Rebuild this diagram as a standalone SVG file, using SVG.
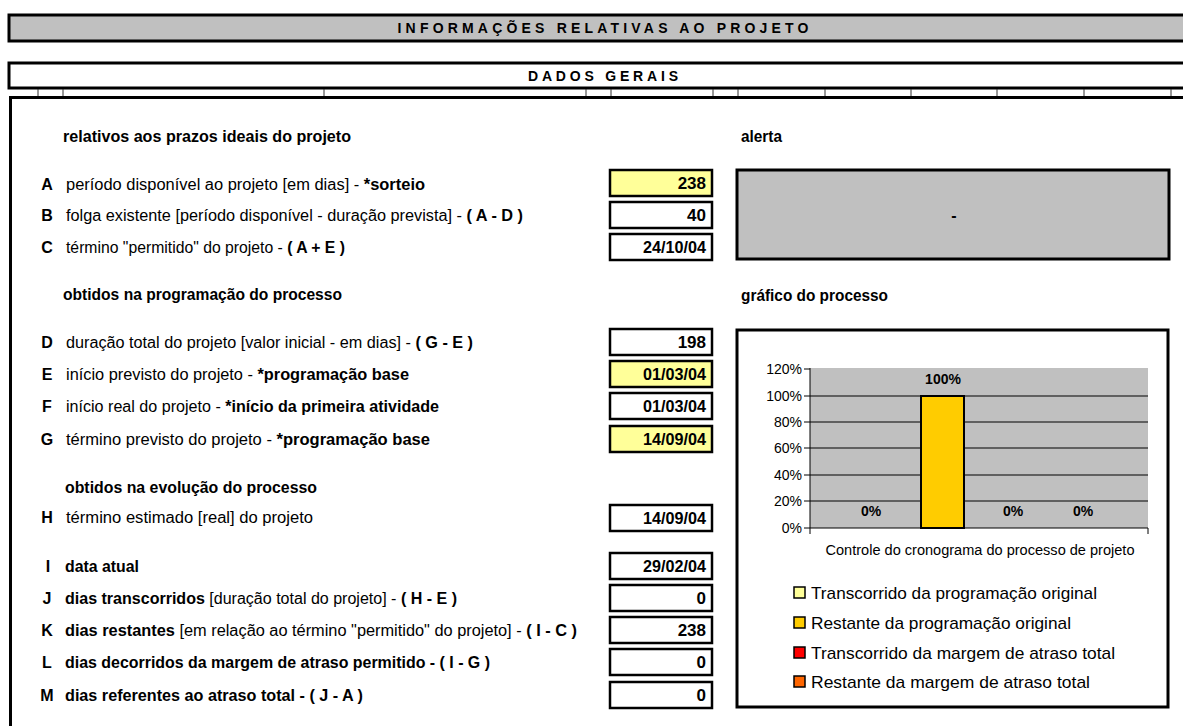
<svg xmlns="http://www.w3.org/2000/svg" width="1183" height="726" viewBox="0 0 1183 726">
<style>
.t{font-family:"Liberation Sans",Arial,sans-serif;font-size:16px;fill:#000}
.b{font-weight:bold}
.hd{font-family:"Liberation Sans",Arial,sans-serif;font-size:14px;font-weight:bold;fill:#000}
.lt{font-family:"Liberation Sans",Arial,sans-serif;font-size:16px;font-weight:bold;fill:#000;text-anchor:middle}
.v{font-family:"Liberation Sans",Arial,sans-serif;font-size:17px;font-weight:bold;fill:#000;text-anchor:end}
.box{fill:#fff;stroke:#000;stroke-width:2.5}
.yel{fill:#ffff99;stroke:#000;stroke-width:2.5}
.ax{font-family:"Liberation Sans",Arial,sans-serif;font-size:14px;fill:#000;text-anchor:end}
.lg{font-family:"Liberation Sans",Arial,sans-serif;font-size:17px;fill:#000}
.grid{stroke:#000;stroke-width:1}
.tick{stroke:#333;stroke-width:1}
</style>
<rect width="1183" height="726" fill="#fff"/>
<g id="header">
<rect x="9" y="15" width="1190" height="26" fill="#c0c0c0" stroke="#000" stroke-width="3"/>
<text class="hd" x="603" y="33" text-anchor="middle" textLength="411" lengthAdjust="spacing">INFORMAÇÕES RELATIVAS AO PROJETO</text>
</g>
<g id="dados-gerais">
<rect x="9" y="63" width="1190" height="25" fill="#fff" stroke="#000" stroke-width="3"/>
<text class="hd" x="603" y="81" text-anchor="middle" textLength="150" lengthAdjust="spacing">DADOS GERAIS</text>
<g class="tick">
<line x1="38" y1="89" x2="38" y2="96"/><line x1="63" y1="89" x2="63" y2="96"/>
<line x1="324" y1="89" x2="324" y2="96"/><line x1="586" y1="89" x2="586" y2="96"/>
<line x1="611" y1="89" x2="611" y2="96"/><line x1="713" y1="89" x2="713" y2="96"/>
<line x1="738" y1="89" x2="738" y2="96"/><line x1="825" y1="89" x2="825" y2="96"/>
<line x1="911" y1="89" x2="911" y2="96"/><line x1="997" y1="89" x2="997" y2="96"/>
<line x1="1084" y1="89" x2="1084" y2="96"/><line x1="1171" y1="89" x2="1171" y2="96"/>
</g>
</g>
<g id="frame">
<path d="M10.5 730 V97.5 H1190" fill="none" stroke="#000" stroke-width="3"/>
</g>
<g id="sections">
<text class="t b" x="63" y="142" textLength="288" lengthAdjust="spacingAndGlyphs">relativos aos prazos ideais do projeto</text>
<text class="t b" x="63" y="300" textLength="279" lengthAdjust="spacingAndGlyphs">obtidos na programação do processo</text>
<text class="t b" x="65" y="493" textLength="252" lengthAdjust="spacingAndGlyphs">obtidos na evolução do processo</text>
<text class="t b" x="741" y="142" textLength="41" lengthAdjust="spacingAndGlyphs">alerta</text>
<text class="t b" x="741" y="301" textLength="147" lengthAdjust="spacingAndGlyphs">gráfico do processo</text>
</g>
<g id="row-A">
<text class="lt" x="47" y="190">A</text>
<text class="t" x="66" y="190" textLength="359" lengthAdjust="spacingAndGlyphs">período disponível ao projeto [em dias] - <tspan class="b">*sorteio</tspan></text>
<rect class="yel" x="610" y="170" width="102" height="26"/>
<text class="v" x="706" y="189">238</text>
</g>
<g id="row-B">
<text class="lt" x="47" y="221">B</text>
<text class="t" x="66" y="221" textLength="457" lengthAdjust="spacingAndGlyphs">folga existente [período disponível - duração prevista] - <tspan class="b">( A - D )</tspan></text>
<rect class="box" x="610" y="202" width="102" height="26"/>
<text class="v" x="706" y="221">40</text>
</g>
<g id="row-C">
<text class="lt" x="47" y="253">C</text>
<text class="t" x="66" y="253" textLength="279" lengthAdjust="spacingAndGlyphs">término "permitido" do projeto - <tspan class="b">( A + E )</tspan></text>
<rect class="box" x="610" y="234" width="102" height="26"/>
<text class="v" x="706" y="253" textLength="63" lengthAdjust="spacingAndGlyphs">24/10/04</text>
</g>
<g id="alerta">
<rect x="737" y="170" width="432" height="89" fill="#c0c0c0" stroke="#000" stroke-width="3"/>
<text class="t b" x="954" y="221" text-anchor="middle" font-size="18">-</text>
</g>
<g id="row-D">
<text class="lt" x="47" y="348">D</text>
<text class="t" x="66" y="348" textLength="407" lengthAdjust="spacingAndGlyphs">duração total do projeto [valor inicial - em dias] - <tspan class="b">( G - E )</tspan></text>
<rect class="box" x="610" y="329" width="102" height="26"/>
<text class="v" x="706" y="348">198</text>
</g>
<g id="row-E">
<text class="lt" x="47" y="380">E</text>
<text class="t" x="66" y="380" textLength="343" lengthAdjust="spacingAndGlyphs">início previsto do projeto - <tspan class="b">*programação base</tspan></text>
<rect class="yel" x="610" y="361" width="102" height="26"/>
<text class="v" x="706" y="380" textLength="63" lengthAdjust="spacingAndGlyphs">01/03/04</text>
</g>
<g id="row-F">
<text class="lt" x="47" y="412">F</text>
<text class="t" x="66" y="412" textLength="373" lengthAdjust="spacingAndGlyphs">início real do projeto - <tspan class="b">*início da primeira atividade</tspan></text>
<rect class="box" x="610" y="393" width="102" height="26"/>
<text class="v" x="706" y="412" textLength="63" lengthAdjust="spacingAndGlyphs">01/03/04</text>
</g>
<g id="row-G">
<text class="lt" x="47" y="445">G</text>
<text class="t" x="66" y="445" textLength="364" lengthAdjust="spacingAndGlyphs">término previsto do projeto  - <tspan class="b">*programação base</tspan></text>
<rect class="yel" x="610" y="426" width="102" height="26"/>
<text class="v" x="706" y="445" textLength="63" lengthAdjust="spacingAndGlyphs">14/09/04</text>
</g>
<g id="row-H">
<text class="lt" x="47" y="523">H</text>
<text class="t" x="66" y="523" textLength="247" lengthAdjust="spacingAndGlyphs">término estimado [real] do projeto</text>
<rect class="box" x="610" y="505" width="102" height="26"/>
<text class="v" x="706" y="524" textLength="63" lengthAdjust="spacingAndGlyphs">14/09/04</text>
</g>
<g id="row-I">
<text class="lt" x="48" y="572">I</text>
<text class="t b" x="65" y="572" textLength="74" lengthAdjust="spacingAndGlyphs">data atual</text>
<rect class="box" x="610" y="553" width="102" height="26"/>
<text class="v" x="706" y="572" textLength="63" lengthAdjust="spacingAndGlyphs">29/02/04</text>
</g>
<g id="row-J">
<text class="lt" x="47" y="604">J</text>
<text class="t" x="65" y="604" textLength="392" lengthAdjust="spacingAndGlyphs"><tspan class="b">dias transcorridos</tspan> [duração total do projeto] - <tspan class="b">( H - E )</tspan></text>
<rect class="box" x="610" y="585" width="102" height="26"/>
<text class="v" x="706" y="604">0</text>
</g>
<g id="row-K">
<text class="lt" x="47" y="636">K</text>
<text class="t" x="65" y="636" textLength="512" lengthAdjust="spacingAndGlyphs"><tspan class="b">dias restantes</tspan> [em relação ao término "permitido" do projeto] - <tspan class="b">( I - C )</tspan></text>
<rect class="box" x="610" y="617" width="102" height="26"/>
<text class="v" x="706" y="636">238</text>
</g>
<g id="row-L">
<text class="lt" x="47" y="668">L</text>
<text class="t b" x="65" y="668" textLength="425" lengthAdjust="spacingAndGlyphs">dias decorridos da margem de atraso permitido - ( I - G )</text>
<rect class="box" x="610" y="649" width="102" height="26"/>
<text class="v" x="706" y="668">0</text>
</g>
<g id="row-M">
<text class="lt" x="47" y="701">M</text>
<text class="t b" x="65" y="701" textLength="298" lengthAdjust="spacingAndGlyphs">dias referentes ao atraso total - ( J - A )</text>
<rect class="box" x="610" y="682" width="102" height="26"/>
<text class="v" x="706" y="701">0</text>
</g>
<g id="grafico">
<rect x="737" y="330" width="431" height="377" fill="#fff" stroke="#000" stroke-width="3"/>
<rect x="810" y="368" width="338" height="160" fill="#c0c0c0"/>
<g class="grid">
<line x1="810" y1="396" x2="1148" y2="396"/>
<line x1="810" y1="422" x2="1148" y2="422"/>
<line x1="810" y1="448" x2="1148" y2="448"/>
<line x1="810" y1="475" x2="1148" y2="475"/>
<line x1="810" y1="501" x2="1148" y2="501"/>
<line x1="810" y1="368" x2="810" y2="528"/>
<line x1="810" y1="528" x2="1148" y2="528"/>
<line x1="804" y1="369" x2="810" y2="369"/>
<line x1="804" y1="396" x2="810" y2="396"/>
<line x1="804" y1="422" x2="810" y2="422"/>
<line x1="804" y1="448" x2="810" y2="448"/>
<line x1="804" y1="475" x2="810" y2="475"/>
<line x1="804" y1="501" x2="810" y2="501"/>
<line x1="804" y1="528" x2="810" y2="528"/>
<line x1="810" y1="528" x2="810" y2="534"/>
<line x1="1148" y1="528" x2="1148" y2="534"/>
</g>
<g>
<text class="ax" x="802" y="374">120%</text>
<text class="ax" x="802" y="401">100%</text>
<text class="ax" x="802" y="427">80%</text>
<text class="ax" x="802" y="453">60%</text>
<text class="ax" x="802" y="480">40%</text>
<text class="ax" x="802" y="506">20%</text>
<text class="ax" x="802" y="533">0%</text>
</g>
<rect x="921" y="396" width="43" height="132" fill="#ffcc00" stroke="#000" stroke-width="2"/>
<g font-family="Liberation Sans, Arial, sans-serif" font-size="14" font-weight="bold" text-anchor="middle">
<text x="943" y="384">100%</text>
<text x="871" y="516">0%</text>
<text x="1013" y="516">0%</text>
<text x="1083" y="516">0%</text>
</g>
<text x="980" y="555" font-family="Liberation Sans, Arial, sans-serif" font-size="14" text-anchor="middle" textLength="309" lengthAdjust="spacingAndGlyphs">Controle do cronograma do processo de projeto</text>
<g stroke="#000" stroke-width="1.5">
<rect x="794" y="587" width="11" height="11" fill="#ffff99"/>
<rect x="794" y="617" width="11" height="11" fill="#ffcc00"/>
<rect x="794" y="647" width="11" height="11" fill="#ff0000"/>
<rect x="794" y="676" width="11" height="11" fill="#ff6600"/>
</g>
<text class="lg" x="811" y="599" textLength="286" lengthAdjust="spacingAndGlyphs">Transcorrido da programação original</text>
<text class="lg" x="811" y="629" textLength="260" lengthAdjust="spacingAndGlyphs">Restante da programação original</text>
<text class="lg" x="811" y="659" textLength="304" lengthAdjust="spacingAndGlyphs">Transcorrido da margem de atraso total</text>
<text class="lg" x="811" y="688" textLength="279" lengthAdjust="spacingAndGlyphs">Restante da margem de atraso total</text>
</g>
</svg>
